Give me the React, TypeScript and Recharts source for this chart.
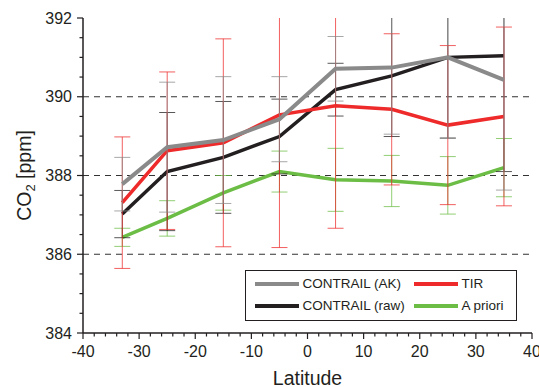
import React from "react";
import {
  LineChart,
  Line,
  XAxis,
  YAxis,
  ErrorBar,
  ReferenceLine,
  Label,
} from "recharts";

// latitude bins (deg)
const latitudes = [-33, -25, -15, -5, 5, 15, 25, 35];

// CO2 means (ppm) and 1-sigma error bars per series
const contrailAK = [387.78, 388.72, 388.9, 389.43, 390.71, 390.74, 391.0, 390.43];
const contrailAKErr = [0.68, 1.65, 1.61, 1.08, 0.82, 1.69, 2.05, 2.8];
const contrailRaw = [387.02, 388.1, 388.46, 388.99, 390.18, 390.53, 391.0, 391.04];
const contrailRawErr = [0.6, 1.5, 1.42, 0.95, 0.67, 1.54, 2.05, 2.94];
const tir = [387.31, 388.63, 388.83, 389.54, 389.77, 389.68, 389.28, 389.5];
const tirErr = [1.67, 2.0, 2.64, 3.37, 3.11, 1.92, 2.02, 2.27];
const apriori = [386.43, 386.91, 387.56, 388.1, 387.89, 387.86, 387.75, 388.2];
const aprioriErr = [0.23, 0.45, 0.44, 0.52, 0.8, 0.65, 0.73, 0.74];

const xLabels = [-40, -30, -20, -10, 0, 10, 20, 30, 40];
const yLabels = [384, 386, 388, 390, 392];
const gridValues = [386, 388, 390];

const GRAY = "#8a8a8a";
const BLACK = "#231f20";
const RED = "#ee2a2a";
const GREEN = "#6cbd45";
const FONT = "'Liberation Sans', Arial, sans-serif";

const data = latitudes.map((lat, i) => ({
  lat,
  ak: contrailAK[i],
  akErr: contrailAKErr[i],
  raw: contrailRaw[i],
  rawErr: contrailRawErr[i],
  tir: tir[i],
  tirErr: tirErr[i],
  apriori: apriori[i],
  aprioriErr: aprioriErr[i],
}));

// minor tick positions
const xTicks: number[] = [];
for (let v = -40; v <= 40; v += 2) xTicks.push(v);
const yTicks: number[] = [];
for (let v = 384; v <= 392; v += 0.5) yTicks.push(v);

const isMajor = (v: number, list: number[]) => list.some((l) => Math.abs(l - v) < 1e-6);

function xTick(props: any, side: "top" | "bottom") {
  const { x, y, payload } = props;
  const major = isMajor(payload.value, xLabels);
  const len = major ? 6 : 3.5;
  const dir = side === "bottom" ? 1 : -1;
  return (
    <g>
      <line x1={x} x2={x} y1={y} y2={y + dir * len} stroke={BLACK} strokeWidth={1.2} />
      {major && side === "bottom" && (
        <text x={x} y={y + 24} textAnchor="middle" fontSize={16} fill={BLACK} fontFamily={FONT}>
          {payload.value}
        </text>
      )}
    </g>
  );
}

function yTick(props: any, side: "left" | "right") {
  const { x, y, payload } = props;
  const major = isMajor(payload.value, yLabels);
  const len = major ? 6 : 3.5;
  const dir = side === "left" ? -1 : 1;
  return (
    <g>
      <line x1={x} x2={x + dir * len} y1={y} y2={y} stroke={BLACK} strokeWidth={1.2} />
      {major && side === "left" && (
        <text x={x - 11} y={y + 5.5} textAnchor="end" fontSize={16} fill={BLACK} fontFamily={FONT}>
          {payload.value}
        </text>
      )}
    </g>
  );
}

const YTitle = () => (
  <text
    transform="translate(30.5,175.5) rotate(-90)"
    textAnchor="middle"
    fontSize={19.5}
    fill={BLACK}
    fontFamily={FONT}
  >
    CO
    <tspan dy={4} fontSize={13}>2</tspan>
    <tspan dy={-4}> [ppm]</tspan>
  </text>
);

const legendItems = [
  { label: "CONTRAIL (AK)", color: GRAY, left: 10, top: 14 },
  { label: "TIR", color: RED, left: 169, top: 14 },
  { label: "CONTRAIL (raw)", color: BLACK, left: 10, top: 36.5 },
  { label: "A priori", color: GREEN, left: 169, top: 36.5 },
];

function ChartLegend() {
  return (
    <div
      style={{
        position: "absolute",
        left: 245,
        top: 270,
        width: 272,
        height: 51,
        boxSizing: "border-box",
        border: `1.5px solid ${BLACK}`,
        background: "#fff",
        fontFamily: FONT,
        fontSize: 13.5,
        color: BLACK,
      }}
    >
      {legendItems.map((it) => (
        <div key={it.label}>
          <div
            style={{
              position: "absolute",
              left: it.left - 1.5,
              top: it.top - 2 - 1.5,
              width: 44,
              height: 4,
              background: it.color,
            }}
          />
          <div
            style={{
              position: "absolute",
              left: it.left + 46.5,
              top: it.top - 9 - 1.5,
              lineHeight: "18px",
              whiteSpace: "nowrap",
            }}
          >
            {it.label}
          </div>
        </div>
      ))}
    </div>
  );
}

export default function App() {
  const errStyle = { width: 8, strokeWidth: 1, strokeOpacity: 0.75, clipPath: "url(#plot-clip)" };
  return (
    <div style={{ position: "absolute", left: 0, top: 0, width: 539, height: 387, background: "#fff" }}>
      <LineChart width={539} height={387} data={data} margin={{ top: 18, right: 7, bottom: 0, left: 0 }}>
        <defs>
          <clipPath id="plot-clip">
            <rect x={83} y={18} width={449} height={315} />
          </clipPath>
        </defs>
        <XAxis
          dataKey="lat"
          type="number"
          domain={[-40, 40]}
          allowDataOverflow
          ticks={xTicks}
          interval={0}
          tickSize={0}
          tickMargin={0}
          tickLine={false}
          tick={(p: any) => xTick(p, "bottom")}
          axisLine={{ stroke: BLACK, strokeWidth: 1.5 }}
          height={54}
        >
          <Label value="Latitude" position="insideBottom" offset={2} fontSize={19.5} fill={BLACK} fontFamily={FONT} />
        </XAxis>
        <XAxis
          xAxisId="top"
          orientation="top"
          type="number"
          domain={[-40, 40]}
          allowDataOverflow
          ticks={xTicks}
          interval={0}
          tickSize={0}
          tickMargin={0}
          tickLine={false}
          tick={(p: any) => xTick(p, "top")}
          axisLine={{ stroke: BLACK, strokeWidth: 1.5 }}
          height={0}
        />
        <YAxis
          type="number"
          domain={[384, 392]}
          allowDataOverflow
          ticks={yTicks}
          interval={0}
          tickSize={0}
          tickMargin={0}
          tickLine={false}
          tick={(p: any) => yTick(p, "left")}
          axisLine={{ stroke: BLACK, strokeWidth: 1.5 }}
          width={83}
        >
          <Label content={<YTitle />} />
        </YAxis>
        <YAxis
          yAxisId="right"
          orientation="right"
          type="number"
          domain={[384, 392]}
          allowDataOverflow
          ticks={yTicks}
          interval={0}
          tickSize={0}
          tickMargin={0}
          tickLine={false}
          tick={(p: any) => yTick(p, "right")}
          axisLine={{ stroke: BLACK, strokeWidth: 1.5 }}
          width={0}
        />
        {gridValues.map((v) => (
          <ReferenceLine key={v} y={v} stroke="#333" strokeWidth={1.2} strokeDasharray="6 5" />
        ))}
        <Line dataKey="apriori" stroke={GREEN} strokeWidth={3.5} dot={false} isAnimationActive={false}>
          <ErrorBar dataKey="aprioriErr" stroke={GREEN} {...errStyle} />
        </Line>
        <Line dataKey="raw" stroke={BLACK} strokeWidth={3.5} dot={false} isAnimationActive={false}>
          <ErrorBar dataKey="rawErr" stroke={BLACK} {...errStyle} />
        </Line>
        <Line dataKey="tir" stroke={RED} strokeWidth={3.5} dot={false} isAnimationActive={false}>
          <ErrorBar dataKey="tirErr" stroke={RED} {...errStyle} />
        </Line>
        <Line dataKey="ak" stroke={GRAY} strokeWidth={4} dot={false} isAnimationActive={false}>
          <ErrorBar dataKey="akErr" stroke={GRAY} {...errStyle} />
        </Line>
      </LineChart>
      <ChartLegend />
    </div>
  );
}
